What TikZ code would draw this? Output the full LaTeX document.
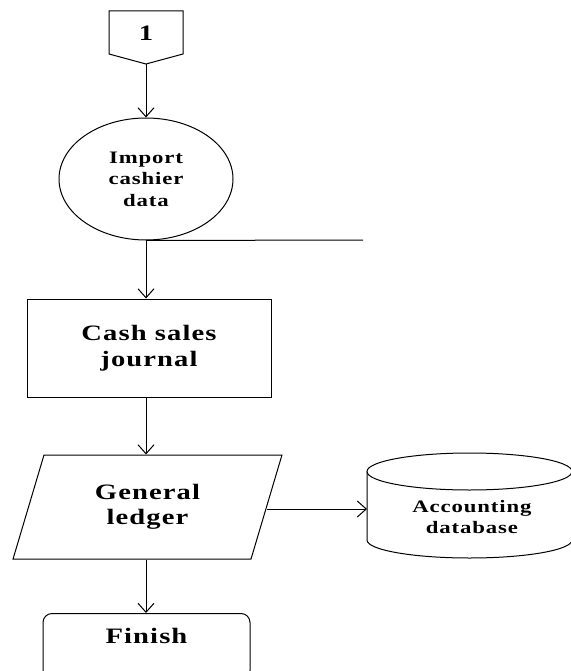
\documentclass[tikz,border=0pt]{standalone}
\usepackage{fontspec}
\usepackage{xcolor}
\newfontfamily\chartfont{Liberation Serif Bold}[FakeStretch=1.3,LetterSpace=5]
\usetikzlibrary{shapes.geometric,arrows.meta}

\tikzset{
  smalltext/.style={font=\chartfont\fontsize{17.5}{21.5}\selectfont, align=center},
  bigtext/.style={font=\chartfont\fontsize{22}{25.5}\selectfont, align=center},
  flowbox/.style={draw, line width=1pt, inner sep=0pt}
}

\begin{document}
\begin{tikzpicture}[x=1pt,y=-1pt,line width=1pt,>={Straight Barb[length=9pt,width=16pt]}]
  \useasboundingbox (0,0) rectangle (570,671);
  \begin{scope}
    \draw (109,11) -- (183,11) -- (183,54) -- (146,64) -- (109,54) -- cycle;
    \node[bigtext] (conn) at (146,33) {1};
    \coordinate (conntip) at (146,64);
    \node[flowbox, ellipse, smalltext, minimum width=174pt, minimum height=122pt] (import) at (146,179) {Import\\cashier\\data};
    \coordinate (impend) at (363,240);
    \node[flowbox, rectangle, bigtext, minimum width=244pt, minimum height=98pt] (journal) at (149,348) {Cash sales\\journal};
    \node[flowbox, trapezium, trapezium left angle=71, trapezium right angle=109, trapezium stretches=true,
      bigtext, minimum width=269pt, minimum height=104pt] (ledger) at (147.5,507) {General\\ledger};
    \draw (367,471.5) -- (367,540) arc[start angle=180, end angle=0, x radius=102.5, y radius=18] -- (572,471.5);
    \draw (469.5,471.5) ellipse[x radius=102.5, y radius=18.5];
    \coordinate (dbwest) at (367,509);
    \node[smalltext] (dbtext) at (472,517) {Accounting\\database};
    \node[flowbox, rounded corners=9pt, bigtext, minimum width=207pt, text height=30pt, text depth=36pt,
      anchor=north] (finish) at (146.5,613) {Finish};
    \draw[->] (conntip) -- (import);
    \draw (import.south) -- (impend);
    \draw[->] (import.south) -- (import.south |- journal.north);
    \draw[->] (journal.south -| import.south) -- (import.south |- ledger.north);
    \draw[->] (ledger.east |- dbwest) -- (dbwest);
    \draw[->] (ledger.south -| import.south) -- (import.south |- finish.north);
  \end{scope}
\end{tikzpicture}
\end{document}
